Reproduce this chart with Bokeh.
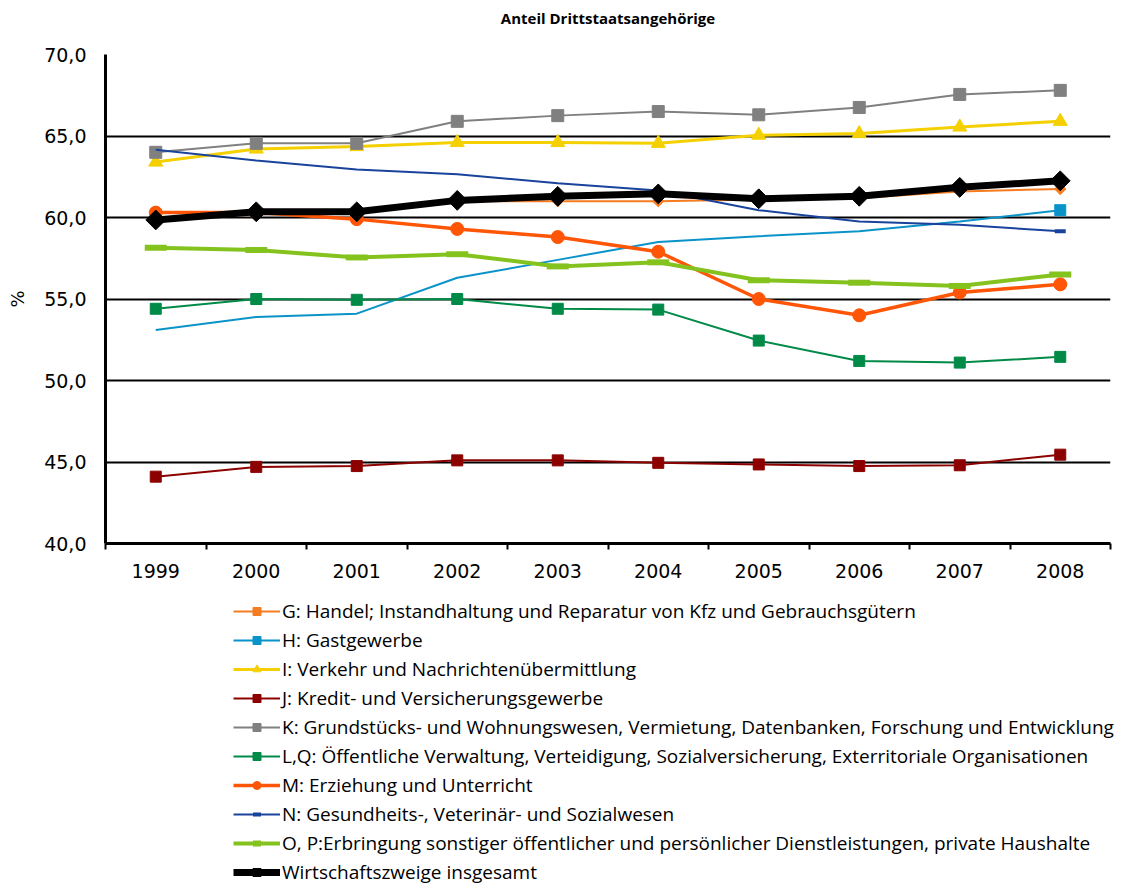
import math
from bokeh.plotting import figure
from bokeh.layouts import column
from bokeh.models import FixedTicker, Legend, LegendItem, Range1d
from bokeh.embed import file_html
from bokeh.resources import INLINE

# ---------------- data ----------------
years = [1999, 2000, 2001, 2002, 2003, 2004, 2005, 2006, 2007, 2008]
y_ticks = [40, 45, 50, 55, 60, 65, 70]

g_handel = [59.8, 60.2, 60.3, 61.0, 61.0, 61.0, 61.1, 61.2, 61.6, 61.75]
h_gast = [53.1, 53.9, 54.1, 56.3, 57.4, 58.5, 58.85, 59.15, 59.75, 60.45]
i_verkehr = [63.4, 64.2, 64.35, 64.6, 64.6, 64.55, 65.05, 65.15, 65.55, 65.9]
j_kredit = [44.1, 44.7, 44.75, 45.1, 45.1, 44.95, 44.85, 44.75, 44.8, 45.45]
k_grund = [64.0, 64.55, 64.55, 65.9, 66.25, 66.5, 66.3, 66.75, 67.55, 67.8]
lq_oeff = [54.4, 55.0, 54.95, 55.0, 54.4, 54.35, 52.45, 51.2, 51.1, 51.45]
m_erz = [60.3, 60.3, 59.9, 59.3, 58.8, 57.9, 55.0, 54.0, 55.4, 55.9]
n_gesund = [64.15, 63.5, 62.95, 62.65, 62.1, 61.65, 60.45, 59.75, 59.55, 59.15]
op_sonst = [58.15, 58.0, 57.55, 57.75, 57.0, 57.25, 56.15, 56.0, 55.8, 56.5]
total = [59.85, 60.35, 60.35, 61.05, 61.3, 61.45, 61.15, 61.3, 61.85, 62.25]

title_text = "Anteil Drittstaatsangehörige"
labels = [
    "G: Handel; Instandhaltung und Reparatur von Kfz und Gebrauchsgütern",
    "H: Gastgewerbe",
    "I: Verkehr und Nachrichtenübermittlung",
    "J: Kredit- und Versicherungsgewerbe",
    "K: Grundstücks- und Wohnungswesen, Vermietung, Datenbanken, Forschung und Entwicklung",
    "L,Q: Öffentliche Verwaltung, Verteidigung, Sozialversicherung, Exterritoriale Organisationen",
    "M: Erziehung und Unterricht",
    "N: Gesundheits-, Veterinär- und Sozialwesen",
    "O, P:Erbringung sonstiger öffentlicher und persönlicher Dienstleistungen, private Haushalte",
    "Wirtschaftszweige insgesamt",
]

# series styles: colour, line width, marker, marker size, angle, only last point, marker line width
styles = [
    ("#F57C20", 2, "square", 8, math.pi / 4, False, 1),
    ("#0A93C8", 2, "square", 11, 0.0, True, 1),
    ("#F5D000", 3, "triangle", 14, 0.0, False, 1),
    ("#8C0000", 2, "square", 11, 0.0, False, 1),
    ("#808080", 2, "square", 12, 0.0, False, 1),
    ("#008A48", 2, "square", 11, 0.0, False, 1),
    ("#FF5506", 3.5, "circle", 13, 0.0, False, 1),
    ("#1A439C", 2, "dash", 11, 0.0, True, 4),
    ("#84C21E", 4, "dash", 22, 0.0, False, 6),
    ("#000000", 7, "square", 14, math.pi / 4, False, 1),
]
series = [g_handel, h_gast, i_verkehr, j_kredit, k_grund, lq_oeff, m_erz, n_gesund, op_sonst, total]


def blank(fig):
    fig.outline_line_color = None
    fig.xgrid.grid_line_color = None
    fig.ygrid.grid_line_color = None
    fig.background_fill_color = "white"
    fig.border_fill_color = "white"


# ---------------- title strip ----------------
t = figure(width=1130, height=36, output_backend="svg", toolbar_location=None,
           x_range=Range1d(0, 1), y_range=Range1d(0, 1),
           x_axis_type=None, y_axis_type=None, title=title_text,
           min_border_left=105, min_border_right=20, min_border_top=0, min_border_bottom=0)
blank(t)
t.title.align = "center"
t.title.text_font = "Open Sans"
t.title.text_font_style = "bold"
t.title.text_font_size = "15px"
t.title.text_color = "black"
t.title.standoff = 10

# ---------------- main figure ----------------
p = figure(width=1130, height=554, output_backend="svg", toolbar_location=None,
           x_range=Range1d(1998.5, 2008.5), y_range=Range1d(40, 70),
           min_border_left=105, min_border_right=20, min_border_top=18,
           min_border_bottom=47)
p.outline_line_color = None
p.background_fill_color = "white"
p.border_fill_color = "white"

# x axis
p.xaxis.ticker = FixedTicker(ticks=years, minor_ticks=[y - 0.5 for y in years] + [years[-1] + 0.5])
p.xaxis.major_label_overrides = {y: str(y) for y in years}
p.xaxis.major_tick_line_color = None
p.xaxis.major_tick_out = 0
p.xaxis.major_tick_in = 0
p.xaxis.minor_tick_out = 6
p.xaxis.minor_tick_in = 0
p.xaxis.minor_tick_line_color = "black"
p.xaxis.minor_tick_line_width = 2
p.xaxis.axis_line_color = "black"
p.xaxis.axis_line_width = 3
p.xaxis.major_label_text_font = "DejaVu Sans"
p.xaxis.major_label_text_font_size = "19px"
p.xaxis.major_label_text_color = "black"
p.xaxis.major_label_standoff = 14

# y axis
p.yaxis.ticker = FixedTicker(ticks=y_ticks)
p.yaxis.major_label_overrides = {v: f"{v:.1f}".replace(".", ",") for v in y_ticks}
p.yaxis.major_tick_line_color = None
p.yaxis.major_tick_out = 0
p.yaxis.major_tick_in = 0
p.yaxis.minor_tick_line_color = None
p.yaxis.axis_line_color = "black"
p.yaxis.axis_line_width = 3
p.yaxis.major_label_text_font = "DejaVu Sans"
p.yaxis.major_label_text_font_size = "19px"
p.yaxis.major_label_text_color = "black"
p.yaxis.major_label_standoff = 19
p.yaxis.axis_label = "%"
p.yaxis.axis_label_text_font = "DejaVu Sans"
p.yaxis.axis_label_text_font_style = "normal"
p.yaxis.axis_label_text_font_size = "18px"
p.yaxis.axis_label_text_color = "black"
p.yaxis.axis_label_standoff = 13

p.xgrid.grid_line_color = None
p.ygrid.grid_line_color = "black"
p.ygrid.grid_line_width = 2


def draw(fig, xs, ys, st):
    color, lw, marker, size, angle, only_last, mlw = st
    rs = [fig.line(xs, ys, line_color=color, line_width=lw)]
    xs_m = xs[-1:] if only_last else xs
    ys_m = ys[-1:] if only_last else ys
    rs.append(fig.scatter(xs_m, ys_m, marker=marker, size=size, angle=angle,
                          fill_color=color, line_color=color, line_width=mlw))
    return rs


for ys, st in zip(series, styles):
    draw(p, years, ys, st)

# ---------------- legend panel ----------------
# the same series are drawn here too, but this panel's ranges keep them out of view;
# only their legend entries show
q = figure(width=1130, height=295, output_backend="svg", toolbar_location=None,
           x_range=Range1d(0, 1), y_range=Range1d(0, 1),
           x_axis_type=None, y_axis_type=None,
           min_border_left=0, min_border_right=0, min_border_top=0, min_border_bottom=0)
blank(q)
leg_x = 128
if "frame_align" in q.properties():
    q.frame_align = False
    leg_x = 233

items = []
for lbl, ys, st in zip(labels, series, styles):
    rs = draw(q, years, ys, st)
    items.append(LegendItem(label=lbl, renderers=rs))

legend = Legend(items=items, location=(leg_x, 0))
legend.border_line_color = None
legend.background_fill_alpha = 0
legend.padding = 0
legend.margin = 0
legend.spacing = 3
legend.label_height = 20
legend.glyph_height = 20
legend.glyph_width = 47
legend.label_standoff = 2
legend.label_text_font = "Open Sans"
legend.label_text_font_size = "19px"
legend.label_text_color = "black"
q.add_layout(legend, "center")

open("out.html", "w").write(file_html(column(t, p, q), INLINE))
